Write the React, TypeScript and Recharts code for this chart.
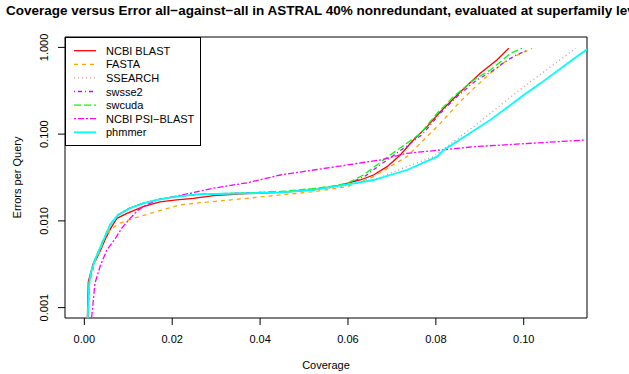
import { LineChart, Line, XAxis, YAxis, ReferenceArea, Legend } from "recharts";

const xTicks = [0, 0.02, 0.04, 0.06, 0.08, 0.1];
const yTicks = [0.001, 0.01, 0.1, 1];

const blastCov = [0.0006, 0.0009, 0.002, 0.0026, 0.0036, 0.005, 0.006, 0.0074, 0.0097, 0.0134, 0.0172, 0.021, 0.0248, 0.0294, 0.037, 0.0446, 0.0522, 0.0582, 0.0628, 0.0658, 0.0689, 0.0719, 0.0749, 0.078, 0.081, 0.0856, 0.0901, 0.0939, 0.0966];
const blastErr = [0.0005, 0.002, 0.0032, 0.0035, 0.0045, 0.0065, 0.0082, 0.0107, 0.0122, 0.0146, 0.0166, 0.0175, 0.0182, 0.0196, 0.0206, 0.0213, 0.0228, 0.0259, 0.0296, 0.0338, 0.0422, 0.0574, 0.0855, 0.122, 0.181, 0.308, 0.502, 0.716, 0.977];

const fastaCov = [0.0007, 0.0012, 0.0025, 0.0036, 0.0047, 0.006, 0.0081, 0.0112, 0.015, 0.0188, 0.0218, 0.0264, 0.0294, 0.037, 0.0446, 0.0522, 0.0598, 0.0658, 0.0734, 0.0772, 0.081, 0.0848, 0.0886, 0.0924, 0.0962, 0.1019];
const fastaErr = [0.0005, 0.0019, 0.0035, 0.0046, 0.0066, 0.008, 0.0094, 0.0107, 0.0122, 0.0138, 0.0153, 0.0162, 0.0167, 0.0182, 0.0199, 0.0217, 0.0248, 0.0323, 0.055, 0.0855, 0.133, 0.217, 0.337, 0.502, 0.716, 0.977];

const ssearchCov = [0.0006, 0.0011, 0.0015, 0.0024, 0.0034, 0.0047, 0.0059, 0.0077, 0.0104, 0.0134, 0.0172, 0.021, 0.0256, 0.0294, 0.037, 0.0446, 0.0522, 0.0582, 0.0658, 0.0734, 0.0795, 0.0825, 0.0886, 0.0924, 0.0962, 0.1, 0.1053, 0.1118];
const ssearchErr = [0.0005, 0.0019, 0.0025, 0.0035, 0.0046, 0.0066, 0.009, 0.0117, 0.014, 0.0159, 0.0177, 0.019, 0.0201, 0.0203, 0.0207, 0.0212, 0.0228, 0.0248, 0.0296, 0.0422, 0.055, 0.0716, 0.122, 0.174, 0.248, 0.352, 0.556, 0.977];

const swsse2Cov = [0.0006, 0.0011, 0.0015, 0.0024, 0.0034, 0.0047, 0.0059, 0.0077, 0.0104, 0.0134, 0.0172, 0.021, 0.0256, 0.0294, 0.037, 0.0446, 0.0522, 0.056, 0.0598, 0.064, 0.067, 0.0702, 0.074, 0.077, 0.0808, 0.0845, 0.089, 0.093, 0.0955, 0.0985, 0.1011];
const swsse2Err = [0.0005, 0.0019, 0.0025, 0.0036, 0.0047, 0.0067, 0.0091, 0.0118, 0.0141, 0.016, 0.0178, 0.0191, 0.0202, 0.0205, 0.021, 0.0216, 0.0233, 0.0246, 0.0265, 0.033, 0.043, 0.056, 0.077, 0.1, 0.17, 0.262, 0.41, 0.54, 0.67, 0.83, 0.933];

const swcudaCov = [0.0006, 0.0011, 0.0015, 0.0024, 0.0034, 0.0047, 0.0059, 0.0077, 0.0104, 0.0134, 0.0172, 0.021, 0.0256, 0.0294, 0.037, 0.0446, 0.0522, 0.056, 0.0598, 0.0635, 0.0666, 0.0696, 0.0734, 0.0765, 0.0803, 0.084, 0.0886, 0.0924, 0.0947, 0.097, 0.0996];
const swcudaErr = [0.0005, 0.0019, 0.0025, 0.0036, 0.0047, 0.0067, 0.0091, 0.0118, 0.0141, 0.016, 0.0178, 0.0191, 0.0202, 0.0205, 0.021, 0.0218, 0.0236, 0.025, 0.0271, 0.0338, 0.0441, 0.0574, 0.0784, 0.102, 0.174, 0.27, 0.421, 0.549, 0.684, 0.855, 0.977];

const psiCov = [0.0015, 0.0017, 0.0024, 0.0036, 0.0051, 0.007, 0.0085, 0.0104, 0.0119, 0.0134, 0.0165, 0.0203, 0.0241, 0.0294, 0.037, 0.0446, 0.0522, 0.0598, 0.0673, 0.0734, 0.0886, 0.114];
const psiErr = [0.0005, 0.0008, 0.0019, 0.003, 0.0046, 0.0062, 0.0082, 0.0107, 0.0128, 0.0146, 0.0174, 0.019, 0.0208, 0.0238, 0.0275, 0.0338, 0.0386, 0.0441, 0.0503, 0.0601, 0.0716, 0.0855];

const phmmerCov = [0.0006, 0.0011, 0.0015, 0.0024, 0.0034, 0.0047, 0.0059, 0.0077, 0.0104, 0.0134, 0.0172, 0.021, 0.0256, 0.0294, 0.037, 0.0446, 0.0522, 0.0582, 0.0658, 0.0734, 0.0803, 0.0818, 0.0871, 0.0924, 0.097, 0.1, 0.1038, 0.1114, 0.1144];
const phmmerErr = [0.0005, 0.0019, 0.0025, 0.0035, 0.0046, 0.0066, 0.009, 0.0117, 0.014, 0.0159, 0.0177, 0.019, 0.0202, 0.0204, 0.0208, 0.0213, 0.0228, 0.0255, 0.0296, 0.0386, 0.055, 0.0656, 0.0977, 0.146, 0.217, 0.283, 0.385, 0.741, 0.951];

const seriesNames = ["NCBI BLAST", "FASTA", "SSEARCH", "swsse2", "swcuda", "NCBI PSI\u2212BLAST", "phmmer"];

const toPoints = (cov: number[], err: number[]) => cov.map((x, i) => ({ x, y: err[i] }));

// R-like line types: solid, dashed, dotted, dotdash, longdash, twodash
const series = [
  { name: seriesNames[0], color: "#FF0000", dash: undefined, width: 1.3, data: toPoints(blastCov, blastErr) },
  { name: seriesNames[1], color: "#FFA500", dash: "4 4", width: 1.3, data: toPoints(fastaCov, fastaErr) },
  { name: seriesNames[2], color: "#C89494", dash: "1 3", width: 1.3, data: toPoints(ssearchCov, ssearchErr) },
  { name: seriesNames[3], color: "#A020F0", dash: "1 3 4 3", width: 1.3, data: toPoints(swsse2Cov, swsse2Err) },
  { name: seriesNames[4], color: "#00FF00", dash: "7 3", width: 1.3, data: toPoints(swcudaCov, swcudaErr) },
  { name: seriesNames[5], color: "#FF00FF", dash: "2 2 6 2", width: 1.3, data: toPoints(psiCov, psiErr) },
  { name: seriesNames[6], color: "#00FFFF", dash: undefined, width: 1.8, data: toPoints(phmmerCov, phmmerErr) },
];

const font = "'Liberation Sans', Arial, sans-serif";
const X_MIN = -0.0044;
const X_MAX = 0.1144;
const Y_MIN = 0.000759;
const Y_MAX = 1.318;

const XTick = (props: any) => (
  <text x={props.x} y={343} textAnchor="middle" fontSize={11} fontFamily={font} fill="#000">
    {props.payload.value.toFixed(2)}
  </text>
);

const YTick = (props: any) => (
  <text
    x={48.5}
    y={props.y}
    textAnchor="middle"
    fontSize={11}
    fontFamily={font}
    fill="#000"
    transform={`rotate(-90, 48.5, ${props.y})`}
  >
    {props.payload.value.toFixed(3)}
  </text>
);

const LegendBox = () => (
  <div style={{ width: 136, height: 109, border: "1px solid #000", background: "#fff", boxSizing: "border-box" }}>
    <svg width={134} height={107} style={{ display: "block" }}>
      {series.map((s, i) => {
        const cy = 12.7 + i * 13.6;
        return (
          <g key={s.name}>
            <line x1={8} x2={30} y1={cy} y2={cy} stroke={s.color} strokeWidth={s.width} strokeDasharray={s.dash} />
            <text x={40} y={cy + 4} fontSize={11} fontFamily={font} fill="#000">
              {s.name}
            </text>
          </g>
        );
      })}
    </svg>
  </div>
);

export default function App() {
  return (
    <div style={{ position: "absolute", left: 0, top: 0, width: 629, height: 374, overflow: "hidden", background: "#fff" }}>
      <div
        style={{
          position: "absolute",
          left: 326,
          top: 3,
          transform: "translateX(-50%)",
          whiteSpace: "nowrap",
          fontFamily: font,
          fontWeight: "bold",
          fontSize: 13.5,
          zIndex: 2,
        }}
      >
        Coverage versus Error all{"\u2212"}against{"\u2212"}all in ASTRAL 40% nonredundant, evaluated at superfamily level
      </div>
      <LineChart width={629} height={374} margin={{ top: 37, right: 42, bottom: 0, left: 0 }}>
        <XAxis
          type="number"
          dataKey="x"
          domain={[X_MIN, X_MAX]}
          allowDataOverflow
          ticks={xTicks}
          interval={0}
          height={56}
          tickSize={7}
          axisLine={false}
          tickLine={{ stroke: "#000" }}
          tick={XTick}
          label={{
            content: () => (
              <text x={326} y={369} textAnchor="middle" fontSize={11} fontFamily={font} fill="#000">
                Coverage
              </text>
            ),
          }}
        />
        <YAxis
          type="number"
          dataKey="y"
          scale="log"
          domain={[Y_MIN, Y_MAX]}
          allowDataOverflow
          ticks={yTicks}
          interval={0}
          width={65}
          tickSize={7}
          axisLine={false}
          tickLine={{ stroke: "#000" }}
          tick={YTick}
          label={{
            content: () => (
              <text
                x={21}
                y={177.5}
                textAnchor="middle"
                fontSize={11}
                fontFamily={font}
                fill="#000"
                transform="rotate(-90, 21, 177.5)"
              >
                Errors per Query
              </text>
            ),
          }}
        />
        {series.map((s) => (
          <Line
            key={s.name}
            data={s.data}
            dataKey="y"
            name={s.name}
            type="linear"
            stroke={s.color}
            strokeWidth={s.width}
            strokeDasharray={s.dash}
            dot={false}
            activeDot={false}
            isAnimationActive={false}
          />
        ))}
        <ReferenceArea
          x1={X_MIN}
          x2={X_MAX}
          y1={Y_MIN}
          y2={Y_MAX}
          fill="none"
          stroke="#000"
          strokeWidth={1}
          ifOverflow="visible"
        />
        <Legend
          layout="vertical"
          align="center"
          verticalAlign="middle"
          content={LegendBox}
          wrapperStyle={{ top: 37, left: 65, width: 136, height: 109 }}
        />
      </LineChart>
    </div>
  );
}
